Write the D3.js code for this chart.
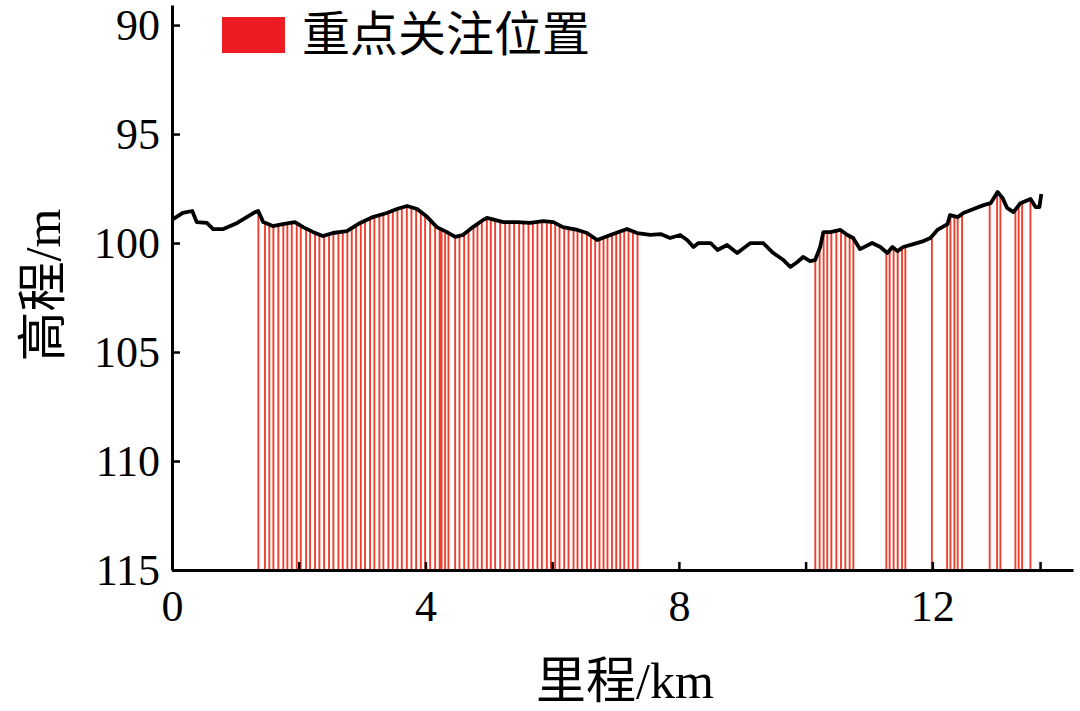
<!DOCTYPE html>
<html>
<head>
<meta charset="utf-8">
<script src="https://cdn.jsdelivr.net/npm/d3@7"></script>
<style>
  html, body { margin: 0; padding: 0; background: #fff; }
  svg { display: block; }
  .num { font-family: "Liberation Serif", "Times New Roman", serif; }
  .cjk { font-family: "Liberation Serif", "Noto Sans CJK SC", serif; }
</style>
</head>
<body>
<svg id="chart" width="1080" height="711"></svg>
<script>
// ---- Data ----
// elevation profile: distance (km) and elevation (m)
const profileKm = [0.00,0.17,0.32,0.39,0.55,0.65,0.81,1.03,1.18,1.31,1.36,1.44,1.59,1.75,1.94,2.07,2.23,2.38,2.54,2.76,2.97,3.17,3.39,3.55,3.71,3.87,4.03,4.18,4.34,4.47,4.59,4.75,4.91,4.97,5.23,5.45,5.65,5.86,6.02,6.17,6.40,6.55,6.71,6.92,7.18,7.34,7.55,7.71,7.86,8.02,8.13,8.23,8.31,8.50,8.61,8.76,8.92,9.13,9.33,9.49,9.65,9.76,9.87,9.96,10.07,10.15,10.23,10.28,10.39,10.55,10.66,10.75,10.86,11.05,11.18,11.29,11.37,11.45,11.54,11.70,11.86,11.97,12.08,12.24,12.28,12.40,12.49,12.65,12.81,12.92,13.03,13.11,13.18,13.28,13.39,13.55,13.63,13.69,13.72];
const profileElev = [98.94,98.62,98.53,99.04,99.08,99.36,99.36,99.08,98.81,98.58,98.53,99.04,99.22,99.13,99.04,99.27,99.50,99.68,99.54,99.45,99.08,98.81,98.62,98.44,98.30,98.44,98.81,99.27,99.50,99.72,99.63,99.27,98.94,98.85,99.04,99.04,99.08,98.99,99.04,99.27,99.40,99.54,99.86,99.63,99.36,99.54,99.63,99.59,99.77,99.63,99.86,100.18,100.00,100.00,100.32,100.09,100.46,100.00,100.00,100.46,100.78,101.10,100.87,100.64,100.83,100.78,100.18,99.50,99.50,99.40,99.63,99.77,100.28,100.00,100.18,100.46,100.18,100.37,100.18,100.05,99.91,99.77,99.40,99.13,98.72,98.81,98.62,98.44,98.26,98.17,97.66,97.94,98.39,98.58,98.17,97.98,98.35,98.35,97.75];

// key positions (km)
const keyPositions = [1.363,1.468,1.536,1.600,1.678,1.757,1.821,1.890,1.969,2.032,2.116,2.179,2.258,2.326,2.400,2.479,2.547,2.626,2.695,2.768,2.837,2.905,2.980,3.047,3.126,3.194,3.273,3.336,3.415,3.485,3.558,3.627,3.706,3.779,3.853,3.927,3.995,4.074,4.153,4.224,4.240,4.255,4.311,4.363,4.469,4.537,4.611,4.679,4.758,4.821,4.890,4.969,5.032,5.100,5.179,5.258,5.326,5.400,5.479,5.547,5.626,5.695,5.768,5.837,5.916,5.980,6.048,6.116,6.190,6.258,6.337,6.400,6.469,6.548,6.611,6.679,6.747,6.810,6.873,6.943,7.011,7.074,7.137,7.205,7.274,7.347,
  10.153,10.221,10.284,10.342,10.406,10.485,10.559,10.627,10.695,10.753,
  11.274,11.326,11.389,11.453,11.522,11.574,
  11.993,
  12.233,12.285,12.348,12.400,12.469,
  12.905,13.022,13.074,
  13.311,13.363,13.417,13.548];

const xTickValues = [0,2,4,6,8,10,12,13.7];
const xTickLabels = {0:"0",4:"4",8:"8",12:"12"};
const yTickValues = [90,95,100,105,110,115];
const legendLabel = "重点关注位置";
const xTitle = "里程/km";
const yTitle = "高程/m";

// ---- Chart ----
const svg = d3.select("#chart");
const left = 172, bottom = 570;
const x = d3.scaleLinear().domain([0, 14.22]).range([left, 1073]);
const y = d3.scaleLinear().domain([89.08, 115]).range([5, bottom]);

const profile = profileKm.map((k, i) => ({k, e: profileElev[i]}));
const bis = d3.bisector(d => d.k).left;
function elevAt(k) {
  let i = bis(profile, k);
  if (i <= 0) return profile[0].e;
  if (i >= profile.length) return profile[profile.length - 1].e;
  const a = profile[i - 1], b = profile[i];
  const t = (k - a.k) / (b.k - a.k);
  return a.e + t * (b.e - a.e);
}

// red lines
svg.append("g").selectAll("line").data(keyPositions).join("line")
  .attr("x1", d => x(d)).attr("x2", d => x(d))
  .attr("y1", d => y(elevAt(d))).attr("y2", y(115))
  .attr("stroke", "#ef3f2f").attr("stroke-width", 1.9);

// profile line
svg.append("path").datum(profile)
  .attr("fill", "none").attr("stroke", "#000").attr("stroke-width", 3.8)
  .attr("stroke-linejoin", "round")
  .attr("d", d3.line().x(d => x(d.k)).y(d => y(d.e)));

// axes
const xAxis = d3.axisBottom(x).tickValues(xTickValues)
  .tickSizeInner(-8).tickSizeOuter(0).tickPadding(20)
  .tickFormat(d => xTickLabels[d] !== undefined ? xTickLabels[d] : "");
const gx = svg.append("g").attr("transform", `translate(0,${bottom})`).call(xAxis);
gx.select(".domain").attr("stroke", "#000").attr("stroke-width", 3);
gx.selectAll(".tick line").attr("stroke", "#000").attr("stroke-width", 2.5);
gx.selectAll(".tick text").attr("class", "num").attr("font-size", 44).attr("fill", "#000");

const yAxis = d3.axisLeft(y).tickValues(yTickValues)
  .tickSizeInner(-8).tickSizeOuter(0).tickPadding(12)
  .tickFormat(d3.format("d"));
const gy = svg.append("g").attr("transform", `translate(${left},0)`).call(yAxis);
gy.select(".domain").attr("stroke", "#000").attr("stroke-width", 3);
gy.selectAll(".tick line").attr("stroke", "#000").attr("stroke-width", 2.5);
gy.selectAll(".tick text").attr("class", "num").attr("font-size", 44).attr("fill", "#000");

// titles
svg.append("text").attr("class", "cjk").attr("x", 625).attr("y", 698)
  .attr("text-anchor", "middle").attr("font-size", 50).attr("fill", "#000").text(xTitle);
svg.append("text").attr("class", "cjk")
  .attr("transform", "translate(60,285) rotate(-90)")
  .attr("text-anchor", "middle").attr("font-size", 50).attr("fill", "#000").text(yTitle);

// legend
svg.append("rect").attr("x", 222).attr("y", 17).attr("width", 63).attr("height", 36).attr("fill", "#ed1c24");
svg.append("text").attr("class", "cjk").attr("x", 302).attr("y", 51)
  .attr("font-size", 48).attr("fill", "#000").text(legendLabel);
</script>
</body>
</html>
